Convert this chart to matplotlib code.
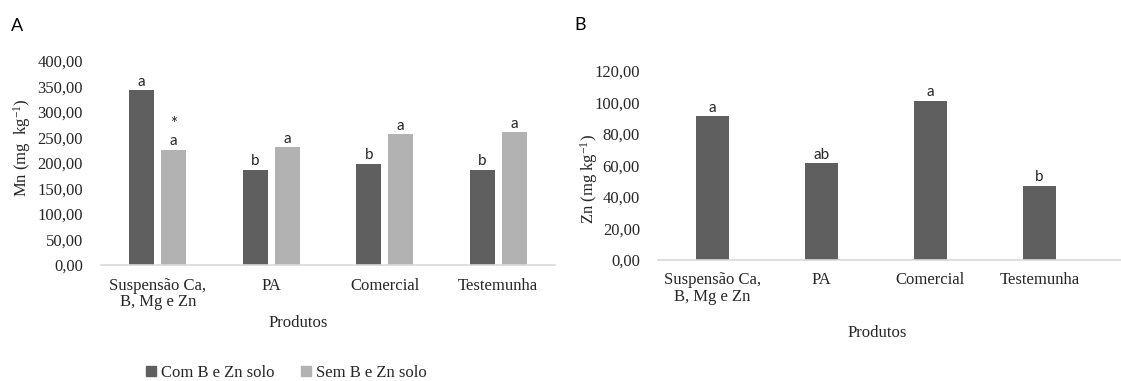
import matplotlib
matplotlib.use("Agg")
import matplotlib.pyplot as plt
from matplotlib.patches import Patch
from matplotlib.font_manager import FontProperties
import numpy as np

categories = ["Suspensão Ca,\nB, Mg e Zn", "PA", "Comercial", "Testemunha"]
mn_com = [343, 187, 199, 187]
mn_sem = [226, 231, 257, 261]
mn_letters_com = ["a", "b", "b", "b"]
mn_letters_sem = ["a", "a", "a", "a"]
mn_star_sem = ["*", "", "", ""]
zn_vals = [91, 61.3, 101, 47]
zn_letters = ["a", "ab", "a", "b"]
mn_ticks = [0, 50, 100, 150, 200, 250, 300, 350, 400]
zn_ticks = [0, 20, 40, 60, 80, 100, 120]
legend_labels = ["Com B e Zn solo", "Sem B e Zn solo"]

plt.rcParams["mathtext.fontset"] = "custom"
plt.rcParams["mathtext.rm"] = "Liberation Serif"
plt.rcParams["mathtext.it"] = "Liberation Serif:italic"
plt.rcParams["mathtext.bf"] = "Liberation Serif:bold"

DARK = "#5f5f5f"
LIGHT = "#b2b2b2"
AXIS = "#d9d9d9"
TXT = "#262626"
SERIF = "Liberation Serif"
SANS = "Lato"

W, H = 1121, 381
fig = plt.figure(figsize=(W / 100, H / 100), dpi=100)

def fmt(v):
    return f"{v:.2f}".replace(".", ",")

def style(ax, ticks, ymax):
    ax.set_ylim(0, ymax)
    ax.set_yticks(ticks)
    ax.set_yticklabels([fmt(t) for t in ticks], family=SERIF, fontsize=12, color=TXT)
    for s in ["top", "right", "left"]:
        ax.spines[s].set_visible(False)
    ax.spines["bottom"].set_color(AXIS)
    ax.spines["bottom"].set_linewidth(1.2)
    ax.tick_params(axis="both", length=0)
    ax.tick_params(axis="y", pad=13)
    ax.tick_params(axis="x", pad=9)
    ax.set_xticks(np.arange(len(categories)))
    ax.set_xticklabels(categories, family=SERIF, fontsize=12, color=TXT, linespacing=1.05)
    ax.set_facecolor("none")

def letter(ax, xi, v, t, dy=1, size=11, va="bottom"):
    ax.annotate(t, (xi, v), xytext=(0, dy), textcoords="offset points", ha="center",
                va=va, family=SANS, fontsize=size, color=TXT)

# Panel A
axA = fig.add_axes([101 / W, 1 - 265 / H, 454 / W, 204 / H])
x = np.arange(len(categories))
off, bw = 0.141, 0.22
axA.bar(x - off, mn_com, bw, color=DARK)
axA.bar(x + off, mn_sem, bw, color=LIGHT)
axA.set_xlim(-0.5, 3.5)
style(axA, mn_ticks, 400)
for xi, v, t in zip(x - off, mn_com, mn_letters_com):
    letter(axA, xi, v, t)
for xi, v, t, s in zip(x + off, mn_sem, mn_letters_sem, mn_star_sem):
    letter(axA, xi, v, t)
    if s:
        letter(axA, xi, v, s, dy=13.0, size=12, va="bottom")

# Panel B
axB = fig.add_axes([658 / W, 1 - 260 / H, 463 / W, 189.3 / H])
axB.bar(x, zn_vals, 0.31, color=DARK)
axB.set_xlim(-0.5, -0.5 + 463 / 109)
style(axB, zn_ticks, 120)
for xi, v, t in zip(x, zn_vals, zn_letters):
    letter(axB, xi, v, t)

# axis titles
fig.text(22 / W, 1 - 148 / H, "Mn (mg  kg$^{-1}$)", rotation=90, ha="center", va="center",
         family=SERIF, fontsize=12, color=TXT)
fig.text(589 / W, 1 - 179 / H, "Zn (mg kg$^{-1}$)", rotation=90, ha="center", va="center",
         family=SERIF, fontsize=12, color=TXT)
fig.text(298 / W, 1 - 323 / H, "Produtos", ha="center", va="center", family=SERIF,
         fontsize=12, color=TXT)
fig.text(877 / W, 1 - 333 / H, "Produtos", ha="center", va="center", family=SERIF,
         fontsize=12, color=TXT)

# panel letters
fig.text(17 / W, 1 - 26 / H, "A", ha="center", va="center", family=SANS, fontsize=13, color="black")
fig.text(580 / W, 1 - 25 / H, "B", ha="center", va="center", family=SANS, fontsize=13, color="black")

# legend
handles = [Patch(color=DARK), Patch(color=LIGHT)]
leg = fig.legend(handles, legend_labels, loc="center", bbox_to_anchor=(286 / W, 1 - 373 / H),
                 ncol=2, frameon=False, handlelength=0.6, handleheight=0.6, handletextpad=0.3,
                 columnspacing=1.6, prop=FontProperties(family=SERIF, size=12),
                 borderaxespad=0, borderpad=0)
for t in leg.get_texts():
    t.set_color(TXT)

fig.savefig("out.png", dpi=100, facecolor="white")
